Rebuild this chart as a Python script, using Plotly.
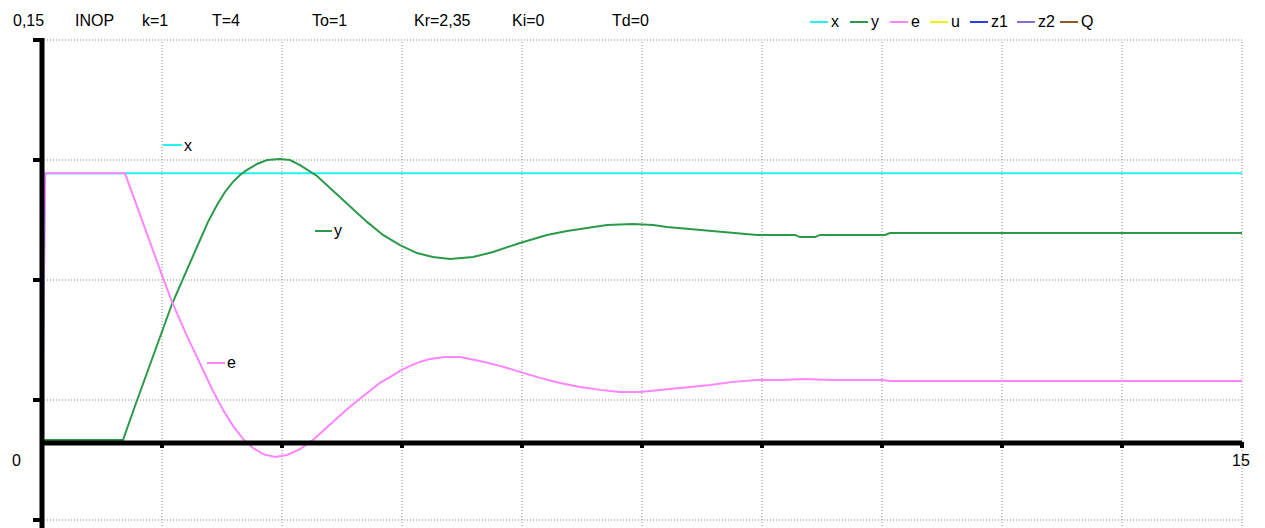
import plotly.graph_objects as go

# ---- simulation output (time in s, signals in controller units) ----
t_x = [0, 0.04, 15]
x_val = [0, 0.1, 0.1]

t_y = [0, 1.0125, 1.1625, 1.3125, 1.475, 1.625, 1.75, 1.8625, 1.975, 2.075,
       2.1875, 2.2875, 2.3875, 2.475, 2.5625, 2.6875, 2.8125, 2.975, 3.1,
       3.225, 3.4375, 3.6375, 3.85, 4.0625, 4.2625, 4.475, 4.6875, 4.8875,
       5.1, 5.3875, 5.6375, 5.975, 6.3125, 6.5625, 6.8125, 7.0625, 7.3875,
       7.6375, 7.8125, 8.1, 8.35, 8.6375, 8.9375, 9.4125, 9.475, 9.6625,
       9.725, 10.5375, 10.6, 15]
y_val = [0, 0, 0.01275, 0.0251, 0.03825, 0.051, 0.0596, 0.0675, 0.0754,
         0.0818, 0.0881, 0.093, 0.0968, 0.0994, 0.1013, 0.1035, 0.105, 0.1054,
         0.105, 0.1031, 0.099, 0.0934, 0.0874, 0.0818, 0.0769, 0.0731, 0.0701,
         0.0686, 0.0679, 0.0686, 0.0705, 0.0739, 0.0769, 0.0784, 0.0795,
         0.0806, 0.081, 0.0806, 0.0799, 0.0791, 0.0784, 0.0776, 0.0769,
         0.0769, 0.0761, 0.0761, 0.0769, 0.0769, 0.0776, 0.0776]

t_e = [0, 0.04, 1.0375, 1.1625, 1.2875, 1.4125, 1.5125, 1.625, 1.8, 1.975,
       2.1375, 2.2625, 2.3875, 2.5125, 2.6375, 2.7625, 2.9125, 3.0625, 3.225,
       3.3875, 3.5125, 3.6375, 3.7875, 3.9375, 4.075, 4.225, 4.35, 4.475, 4.6,
       4.725, 4.85, 5.0375, 5.225, 5.35, 5.475, 5.725, 5.975, 6.225, 6.475,
       6.725, 6.975, 7.225, 7.475, 7.725, 8.0125, 8.35, 8.6375, 8.9375,
       9.2625, 9.5125, 9.8875, 10.5125, 10.6, 15]
e_val = [0, 0.1, 0.1, 0.0899, 0.0791, 0.069, 0.0608, 0.0518, 0.0398, 0.0289,
         0.0184, 0.0113, 0.0053, 0.0004, -0.003, -0.0053, -0.0064, -0.0056,
         -0.0034, 0.0, 0.0034, 0.0071, 0.0109, 0.0146, 0.018, 0.0214, 0.0236,
         0.0259, 0.0278, 0.0293, 0.0304, 0.0311, 0.0311, 0.0304, 0.0296,
         0.0278, 0.0255, 0.0233, 0.0214, 0.0199, 0.0188, 0.018, 0.018, 0.0188,
         0.0195, 0.0206, 0.0218, 0.0225, 0.0225, 0.0229, 0.0225, 0.0225,
         0.0221, 0.0221]

# grid / tick positions
grid_t = [1.5, 3, 4.5, 6, 7.5, 9, 10.5, 12, 13.5, 15]
grid_v = [-0.03, 0.015, 0.06, 0.105, 0.15]

header = [("INOP", 73), ("k=1", 140), ("T=4", 210), ("To=1", 310),
          ("Kr=2,35", 412), ("Ki=0", 510), ("Td=0", 610)]
legend_names = ["x", "y", "e", "u", "z1", "z2", "Q"]
legend_colors = ["#22f2f2", "#2a9a4a", "#ff85ff", "#f4f000", "#2b3df0",
                 "#8a6ad8", "#8c5a2a"]
legend_left = [810, 850, 890, 930, 970, 1017, 1060]

C_X, C_Y, C_E = legend_colors[0], legend_colors[1], legend_colors[2]
FONT = dict(family="Liberation Sans, Arial, sans-serif", size=16, color="black")


# pixel helpers for placing decorations
def tx(px):
    return (px - 42) / 80.0


def vy(py):
    return (440 - py) * 0.000375


fig = go.Figure()
fig.add_trace(go.Scatter(x=t_x, y=x_val, mode="lines", name="x",
                         line=dict(color=C_X, width=2)))
fig.add_trace(go.Scatter(x=t_y, y=y_val, mode="lines", name="y",
                         line=dict(color=C_Y, width=2)))
fig.add_trace(go.Scatter(x=t_e, y=e_val, mode="lines", name="e",
                         line=dict(color=C_E, width=2)))

shapes = []
grid_line = dict(color="#8a8a8a", width=1, dash="1px,2px")
for v in grid_v:
    shapes.append(dict(type="line", xref="x", yref="y", x0=tx(44), x1=15,
                       y0=v, y1=v, line=grid_line, layer="below"))
for t in grid_t:
    shapes.append(dict(type="line", xref="x", yref="y", x0=t, x1=t,
                       y0=vy(42), y1=vy(528), line=grid_line, layer="below"))

# axes
shapes.append(dict(type="line", xref="x", yref="y", x0=0, x1=0,
                   y0=vy(38), y1=vy(528), line=dict(color="black", width=5)))
shapes.append(dict(type="line", xref="x", yref="y", x0=tx(40), x1=15,
                   y0=vy(443), y1=vy(443), line=dict(color="black", width=5)))
for v in grid_v:
    shapes.append(dict(type="line", xref="x", yref="y", x0=tx(33), x1=tx(41),
                       y0=v, y1=v, line=dict(color="black", width=4)))
for t in grid_t:
    shapes.append(dict(type="line", xref="x", yref="y", x0=t, x1=t,
                       y0=vy(442), y1=vy(448), line=dict(color="black", width=4)))

annotations = []


def label(text, px, py, anchor="left"):
    annotations.append(dict(text=text, x=tx(px), y=vy(py), xref="x", yref="y",
                            xanchor=anchor, yanchor="middle", showarrow=False,
                            font=FONT))


def swatch(color, px0, px1, py):
    shapes.append(dict(type="line", xref="x", yref="y", x0=tx(px0), x1=tx(px1),
                       y0=vy(py), y1=vy(py), line=dict(color=color, width=2)))


label("0,15", 11, 20)
for txt, px in header:
    label(txt, px, 20)
for name, col, px in zip(legend_names, legend_colors, legend_left):
    swatch(col, px, px + 18, 22)
    label(name, px + 19, 21)

label("0", 16, 460, "center")
label("15", 1241, 460, "center")

# in-plot series labels
swatch(C_X, 163, 182, 145)
label("x", 182, 145)
swatch(C_Y, 315, 332, 231)
label("y", 332, 230)
swatch(C_E, 207, 225, 363)
label("e", 225, 362)

fig.update_layout(
    width=1265, height=528,
    margin=dict(l=0, r=0, t=0, b=0),
    paper_bgcolor="white", plot_bgcolor="white",
    showlegend=False,
    xaxis=dict(range=[tx(0), tx(1265)], visible=False, fixedrange=True),
    yaxis=dict(range=[vy(528), vy(0)], visible=False, fixedrange=True),
    shapes=shapes, annotations=annotations,
)

fig.write_html("out.html")
